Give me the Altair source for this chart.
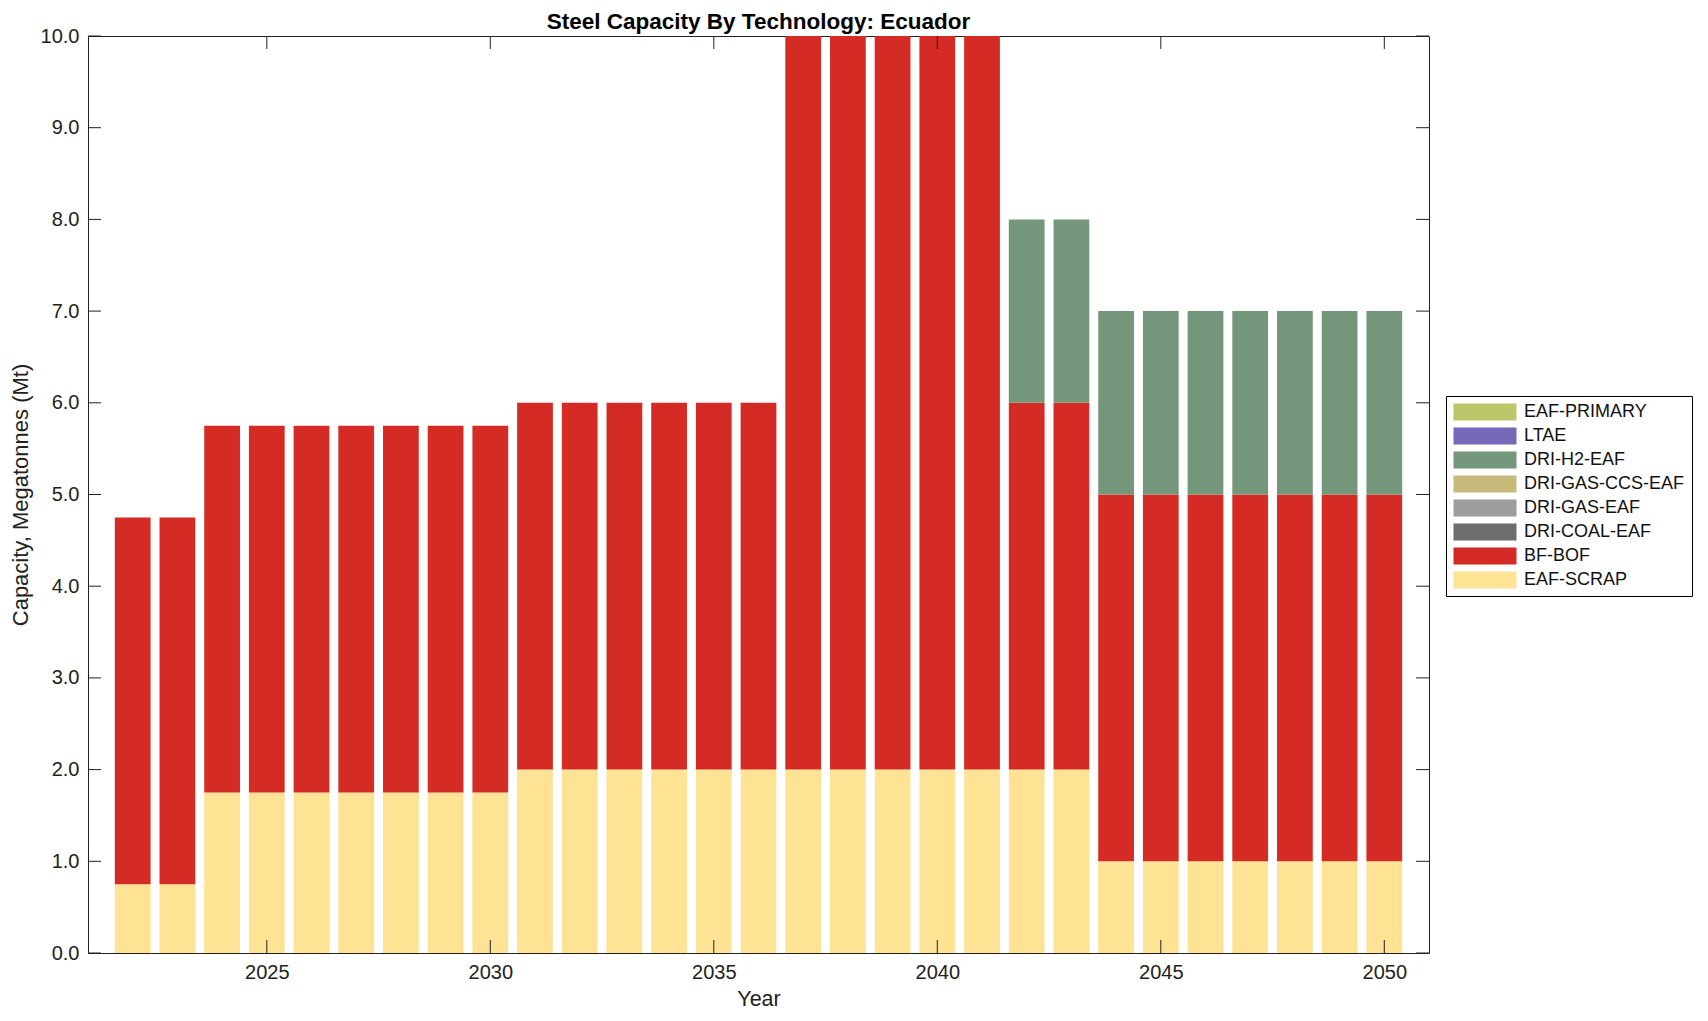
import altair as alt
import pandas as pd

years = list(range(2022, 2051))
techs = ["EAF-PRIMARY", "LTAE", "DRI-H2-EAF", "DRI-GAS-CCS-EAF",
         "DRI-GAS-EAF", "DRI-COAL-EAF", "BF-BOF", "EAF-SCRAP"]
colors = ["#bec66b", "#7369b8", "#74977c", "#c6bb7b",
          "#9d9d9d", "#6e6e6e", "#d42b25", "#fee394"]

eaf_scrap = [0.75, 0.75] + [1.75] * 7 + [2.0] * 13 + [1.0] * 7
bf_bof = [4.0, 4.0] + [4.0] * 7 + [4.0] * 6 + [8.0] * 5 + [4.0] * 2 + [4.0] * 7
dri_h2 = [0.0] * 20 + [2.0] * 2 + [2.0] * 7
zeros = [0.0] * 29

series = {
    "EAF-SCRAP": eaf_scrap,
    "BF-BOF": bf_bof,
    "DRI-COAL-EAF": zeros,
    "DRI-GAS-EAF": zeros,
    "DRI-GAS-CCS-EAF": zeros,
    "DRI-H2-EAF": dri_h2,
    "LTAE": zeros,
    "EAF-PRIMARY": zeros,
}
stack_order = ["EAF-SCRAP", "BF-BOF", "DRI-COAL-EAF", "DRI-GAS-EAF",
               "DRI-GAS-CCS-EAF", "DRI-H2-EAF", "LTAE", "EAF-PRIMARY"]

y_ticks = [float(v) for v in range(0, 11)]
x_ticks = [2025, 2030, 2035, 2040, 2045, 2050]

rows = []
for t in stack_order:
    for yr, v in zip(years, series[t]):
        rows.append({"year": yr, "tech": t, "value": v, "rank": stack_order.index(t)})
df = pd.DataFrame(rows)

W, H = 1341, 917
FONT = "Liberation Sans"

xscale = alt.Scale(domain=[2021, 2051], nice=False, zero=False)
yscale = alt.Scale(domain=[0, 10], nice=False)

# wide flat swatch: symbol unit r = sqrt(size)/2 = 8.5px -> 63 x 17 px
legend_path = "M-1,-1H6.41V1H-1Z"

bars = alt.Chart(df).transform_stack(
    stack="value", groupby=["year"], as_=["y0", "y1"],
    sort=[alt.SortField("rank", order="ascending")]
).transform_calculate(
    xa="datum.year - 0.4", xb="datum.year + 0.4"
).mark_bar(clip=True).encode(
    x=alt.X("xa:Q", scale=xscale, title="Year",
            axis=alt.Axis(values=x_ticks, format="d", ticks=False, domain=False,
                          grid=False, labelFontSize=20, titleFontSize=21.5,
                          labelPadding=9, titlePadding=6, labelColor="#222",
                          titleColor="#222", titleFontWeight="normal")),
    x2="xb:Q",
    y=alt.Y("y0:Q", scale=yscale, title="Capacity, Megatonnes (Mt)",
            axis=alt.Axis(values=y_ticks, format=".1f", ticks=False, domain=False,
                          grid=False, labelFontSize=20, titleFontSize=22,
                          labelPadding=9, titlePadding=8, labelColor="#222",
                          titleColor="#222", titleFontWeight="normal")),
    y2="y1:Q",
    color=alt.Color("tech:N", scale=alt.Scale(domain=techs, range=colors),
                    legend=alt.Legend(title=None, orient="none", legendX=1358, legendY=360,
                                      symbolType=legend_path, symbolSize=289,
                                      symbolStrokeWidth=0, labelFontSize=18,
                                      labelOffset=53, padding=7, rowPadding=6,
                                      strokeColor="black", fillColor="white",
                                      labelColor="#111", labelFont=FONT,
                                      labelLimit=400)),
)

ytick_df = pd.DataFrame({"v": y_ticks})
xtick_df = pd.DataFrame({"v": x_ticks})
TL = 13

yl = alt.Chart(ytick_df).mark_rule(color="#222", strokeWidth=1).encode(
    y=alt.Y("v:Q", scale=yscale), x=alt.value(0), x2=alt.value(TL))
yr_ = alt.Chart(ytick_df).mark_rule(color="#222", strokeWidth=1).encode(
    y=alt.Y("v:Q", scale=yscale), x=alt.value(W - TL), x2=alt.value(W))
xb = alt.Chart(xtick_df).mark_rule(color="#222", strokeWidth=1).encode(
    x=alt.X("v:Q", scale=xscale), y=alt.value(H - TL), y2=alt.value(H))
xt = alt.Chart(xtick_df).mark_rule(color="#222", strokeWidth=1).encode(
    x=alt.X("v:Q", scale=xscale), y=alt.value(0), y2=alt.value(TL))

chart = alt.layer(bars, yl, yr_, xb, xt).properties(
    width=W, height=H,
    title=alt.TitleParams("Steel Capacity By Technology: Ecuador", fontSize=22.5,
                          fontWeight="bold", font=FONT, offset=0, dy=7, color="#000",
                          anchor="middle"),
    autosize=alt.AutoSizeParams(type="none"),
    padding={"left": 80, "top": 28, "right": 270, "bottom": 60},
).configure(font=FONT).configure_view(stroke="#222", strokeWidth=1)

chart.save("out.html", embed_options={"renderer": "svg", "actions": False})
